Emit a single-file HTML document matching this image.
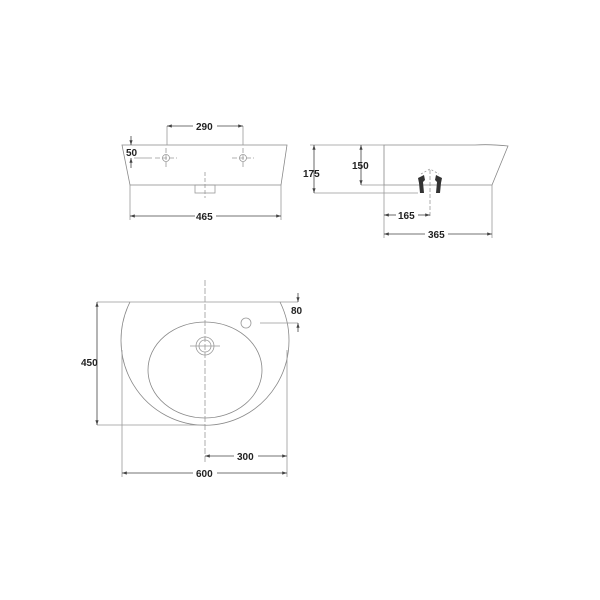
<!DOCTYPE html>
<html><head><style>body{margin:0;background:#fff}svg{display:block}text{font-family:"Liberation Sans",sans-serif;font-size:10px;font-weight:bold;fill:#222}</style></head><body>
<svg width="600" height="600" viewBox="0 0 600 600">
<defs><marker id="a" markerWidth="6" markerHeight="6" refX="6" refY="3" orient="auto-start-reverse"><path d="M0,1 L6,3 L0,5z" fill="#444"/></marker></defs>
<g stroke="#999" stroke-width="0.8" fill="none">
<!-- front view -->
<path d="M122,145 L287,145 L281,185 L130,185 Z" stroke="#888"/>
<rect x="195" y="185" width="20" height="8"/>
<line x1="205" y1="172" x2="205" y2="198" stroke-dasharray="4,2"/>
<circle cx="166" cy="158" r="3.5"/><circle cx="243" cy="158" r="3.5"/>
<line x1="155" y1="158" x2="177" y2="158" stroke-dasharray="5,2"/><line x1="166" y1="148" x2="166" y2="168" stroke-dasharray="5,2"/>
<line x1="232" y1="158" x2="254" y2="158" stroke-dasharray="5,2"/><line x1="243" y1="148" x2="243" y2="168" stroke-dasharray="5,2"/>
<line x1="134" y1="158" x2="152" y2="158"/>
<line x1="167" y1="126" x2="167" y2="145"/><line x1="243" y1="126" x2="243" y2="145"/>
<line x1="167" y1="126" x2="193" y2="126" stroke="#444" marker-start="url(#a)"/><line x1="217" y1="126" x2="243" y2="126" stroke="#444" marker-end="url(#a)"/>
<line x1="131" y1="136" x2="131" y2="145" stroke="#444" marker-end="url(#a)"/><line x1="131" y1="168" x2="131" y2="158" stroke="#444" marker-end="url(#a)"/>
<line x1="130" y1="185" x2="130" y2="220"/><line x1="281" y1="185" x2="281" y2="220"/>
<line x1="130" y1="216" x2="195" y2="216" stroke="#444" marker-start="url(#a)"/><line x1="216" y1="216" x2="281" y2="216" stroke="#444" marker-end="url(#a)"/>
<!-- side view -->
<path d="M384,145 L475,145 Q490,144 508,146 L492,185 L384,185 Z" stroke="#888"/>
<line x1="314" y1="193" x2="418" y2="193"/><line x1="310" y1="145" x2="384" y2="145"/>
<line x1="361" y1="185" x2="384" y2="185"/>
<line x1="314" y1="145" x2="314" y2="193" stroke="#444" marker-start="url(#a)" marker-end="url(#a)"/>
<line x1="361" y1="145" x2="361" y2="185" stroke="#444" marker-start="url(#a)" marker-end="url(#a)"/>
<line x1="430" y1="170" x2="430" y2="218" stroke-dasharray="4,2"/>
<path d="M421,174 L430,169 L439,174" stroke-dasharray="2,2"/>
<line x1="384" y1="185" x2="384" y2="238"/><line x1="492" y1="185" x2="492" y2="238"/>
<line x1="384" y1="215" x2="396" y2="215" stroke="#444" marker-start="url(#a)"/><line x1="418" y1="215" x2="430" y2="215" stroke="#444" marker-end="url(#a)"/>
<line x1="384" y1="234" x2="425" y2="234" stroke="#444" marker-start="url(#a)"/><line x1="448" y1="234" x2="492" y2="234" stroke="#444" marker-end="url(#a)"/>
<!-- plan view -->
<line x1="97" y1="302" x2="298" y2="302"/>
<path d="M130,302 A84,85 0 1 0 280,302" stroke="#888"/>
<ellipse cx="205" cy="370" rx="57" ry="48" stroke="#888"/>
<circle cx="205" cy="346" r="9"/><circle cx="205" cy="346" r="6"/>
<circle cx="246" cy="323" r="5"/>
<line x1="205" y1="280" x2="205" y2="462" stroke-dasharray="6,2"/>
<line x1="190" y1="346" x2="220" y2="346"/>
<line x1="260" y1="323" x2="298" y2="323"/>
<line x1="97" y1="425" x2="205" y2="425"/>
<line x1="97" y1="302" x2="97" y2="425" stroke="#444" marker-start="url(#a)" marker-end="url(#a)"/>
<line x1="298" y1="293" x2="298" y2="302" stroke="#444" marker-end="url(#a)"/><line x1="298" y1="332" x2="298" y2="323" stroke="#444" marker-end="url(#a)"/>
<line x1="122" y1="350" x2="122" y2="477"/><line x1="287" y1="350" x2="287" y2="477"/>
<line x1="205" y1="456" x2="234" y2="456" stroke="#444" marker-start="url(#a)"/><line x1="258" y1="456" x2="287" y2="456" stroke="#444" marker-end="url(#a)"/>
<line x1="122" y1="473" x2="193" y2="473" stroke="#444" marker-start="url(#a)"/><line x1="217" y1="473" x2="287" y2="473" stroke="#444" marker-end="url(#a)"/>
</g>
<path d="M418,178 L424,175 L425,180 L423,182 L424,193 L420,193 L419,183 Z M442,178 L436,175 L435,180 L437,182 L436,193 L440,193 L441,183 Z" fill="#333"/>
<text x="196" y="130">290</text><text x="126" y="156">50</text><text x="196" y="220">465</text>
<text x="303" y="177">175</text><text x="352" y="169">150</text><text x="398" y="219">165</text><text x="428" y="238">365</text>
<text x="81" y="366">450</text><text x="291" y="314">80</text><text x="237" y="460">300</text><text x="196" y="477">600</text>
</svg></body></html>
